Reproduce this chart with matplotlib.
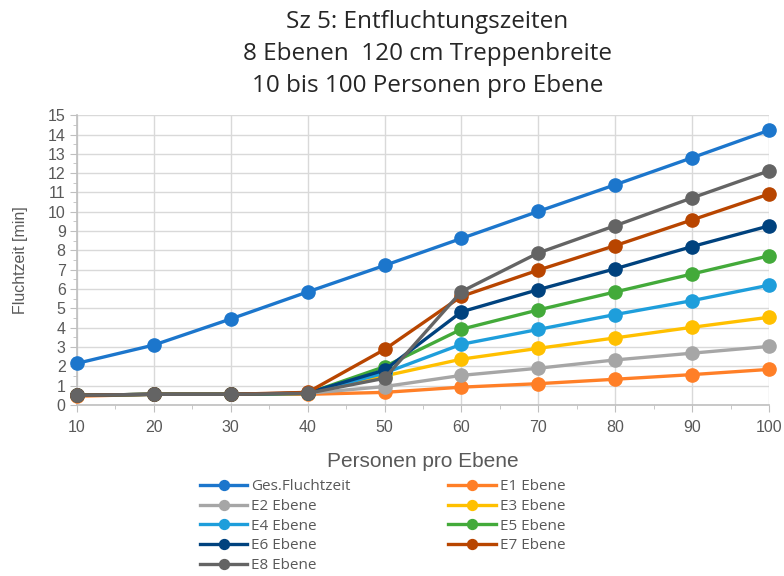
import matplotlib
matplotlib.use("Agg")
import matplotlib.pyplot as plt
from matplotlib.ticker import MultipleLocator

personen = [10, 20, 30, 40, 50, 60, 70, 80, 90, 100]

ges = [2.15, 3.1, 4.45, 5.85, 7.22, 8.62, 10.02, 11.4, 12.8, 14.22]
e1 = [0.45, 0.55, 0.55, 0.55, 0.65, 0.92, 1.1, 1.33, 1.57, 1.84]
e2 = [0.5, 0.55, 0.55, 0.6, 0.95, 1.53, 1.9, 2.33, 2.68, 3.03]
e3 = [0.5, 0.55, 0.55, 0.6, 1.5, 2.37, 2.93, 3.47, 4.02, 4.54]
e4 = [0.5, 0.55, 0.55, 0.6, 1.65, 3.14, 3.91, 4.68, 5.4, 6.2]
e5 = [0.5, 0.55, 0.55, 0.6, 1.98, 3.92, 4.92, 5.85, 6.78, 7.72]
e6 = [0.5, 0.55, 0.55, 0.62, 1.8, 4.82, 5.97, 7.05, 8.2, 9.27]
e7 = [0.5, 0.55, 0.55, 0.65, 2.87, 5.62, 6.98, 8.25, 9.58, 10.92]
e8 = [0.5, 0.55, 0.55, 0.6, 1.38, 5.87, 7.87, 9.28, 10.72, 12.12]

names = ["Ges.Fluchtzeit", "E1 Ebene", "E2 Ebene", "E3 Ebene", "E4 Ebene",
         "E5 Ebene", "E6 Ebene", "E7 Ebene", "E8 Ebene"]
series = [ges, e1, e2, e3, e4, e5, e6, e7, e8]
farben = ["#1C76CC", "#FF7F27", "#A6A6A6", "#FFC000", "#1E9EDB",
          "#43AA3A", "#00427E", "#B84500", "#646464"]

fig = plt.figure(figsize=(7.84, 5.76), dpi=100)
ax = fig.add_axes([0.098, 0.297, 0.883, 0.503])

lines = {}
for name, vals, col in zip(names, series, farben):
    ln, = ax.plot(personen, vals, color=col, lw=2.4, marker="o", ms=9.5,
                  clip_on=False, zorder=3)
    lines[name] = ln

ax.set_xlim(10, 100)
ax.set_ylim(0, 15)
ax.xaxis.set_major_locator(MultipleLocator(10))
ax.xaxis.set_minor_locator(MultipleLocator(5))
ax.yaxis.set_major_locator(MultipleLocator(1))
ax.yaxis.set_minor_locator(MultipleLocator(0.5))
ax.grid(True, which="major", color="#D9D9D9", lw=1, zorder=0)

for s in ["top", "right"]:
    ax.spines[s].set_visible(False)
for s in ["left", "bottom"]:
    ax.spines[s].set_color("#BFBFBF")
    ax.spines[s].set_linewidth(1.2)

ax.tick_params(which="major", length=5, color="#BFBFBF", labelsize=11.5,
               labelcolor="#595959", pad=3)
ax.tick_params(which="minor", length=3, color="#BFBFBF")
for lbl in ax.get_xticklabels() + ax.get_yticklabels():
    lbl.set_family("Liberation Sans")
ax.tick_params(axis="x", pad=6)

ax.set_xlabel("Personen pro Ebene", fontsize=15, color="#595959",
              family="Liberation Sans", labelpad=12)
ax.set_ylabel("Fluchtzeit [min]", fontsize=11.5, color="#595959",
              family="Liberation Sans", labelpad=14)

fig.text(0.545, 0.906, "Sz 5: Entfluchtungszeiten\n8 Ebenen  120 cm Treppenbreite\n10 bis 100 Personen pro Ebene",
         ha="center", va="center", fontsize=17.5, color="#262626",
         family="Open Sans", linespacing=1.45)

# legend laid out row-wise: left column Ges, E2, E4, E6, E8; right column E1, E3, E5, E7
order = ["Ges.Fluchtzeit", "E2 Ebene", "E4 Ebene", "E6 Ebene", "E8 Ebene",
         "E1 Ebene", "E3 Ebene", "E5 Ebene", "E7 Ebene"]
leg = fig.legend([lines[n] for n in order], order, ncol=2,
                 loc="upper left", bbox_to_anchor=(0.255, 0.168),
                 frameon=False, fontsize=11, handlelength=3.1,
                 handletextpad=0.25, columnspacing=6.4, labelspacing=0.31,
                 markerscale=0.75, borderpad=0, borderaxespad=0)
for t in leg.get_texts():
    t.set_color("#595959")
    t.set_family("Open Sans")

fig.savefig("out.png", dpi=100)
